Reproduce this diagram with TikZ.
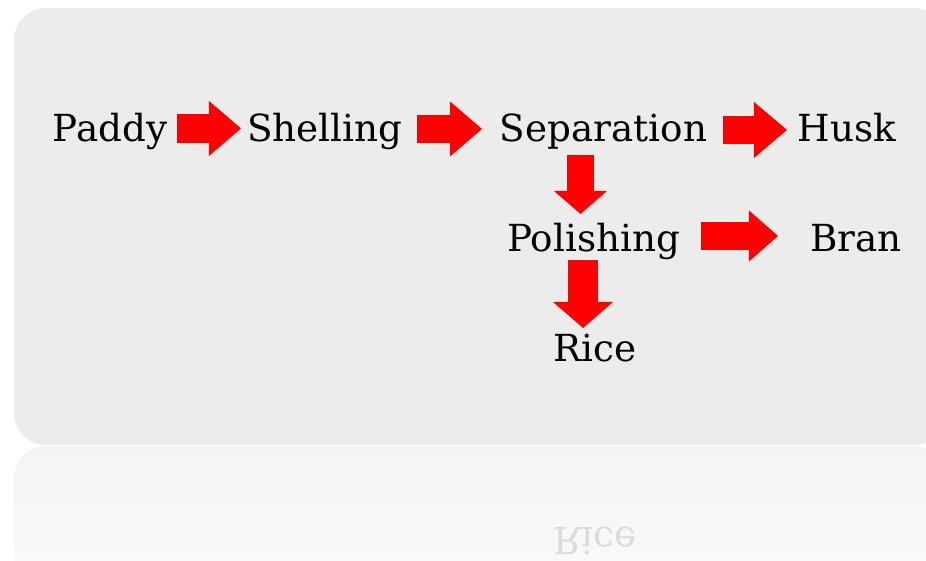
\documentclass[tikz,border=0pt]{standalone}
\usepackage{fontspec}
\setmainfont{DejaVu Serif}
\usetikzlibrary{arrows.meta, calc}

\definecolor{panelgray}{RGB}{236,236,236}
\definecolor{mirrortop}{RGB}{244,244,244}
\definecolor{mirrorbot}{RGB}{255,255,255}
\definecolor{mirrortext}{RGB}{220,220,220}

\tikzset{
  word/.style={font=\fontsize{10.6}{12}\selectfont, inner sep=0pt, anchor=base},
  flow/.style={draw=red, line width=0.28cm,
               -{Triangle[length=0.32cm, width=0.55cm, line width=0pt]}},
  drop/.style={draw=red, line width=0.28cm,
               -{Triangle[length=0.25cm, width=0.56cm, line width=0pt]}},
}

\begin{document}
\begin{tikzpicture}[x=0.01cm, y=-0.01cm]
  \useasboundingbox (0,0) rectangle (926,561);
  \clip (0,0) rectangle (926,561);
  % panel and its reflection
  \fill[panelgray, rounded corners=0.32cm] (14,8) rectangle (945,445);
  \shade[top color=mirrortop, bottom color=mirrorbot, rounded corners=0.32cm]
    (14,446) rectangle (945,700);
  \node[word, text=mirrortext, yscale=-1, transform shape] (ricemirror)
    at (595,528) {Rice};
  % stages
  \node[word] (paddy) at (110,142) {Paddy};
  \node[word] (shelling) at (325,142) {Shelling};
  \node[word] (separation) at (603.5,142) {Separation};
  \node[word] (husk) at (847,142) {Husk};
  \node[word] (polishing) at (593.5,252) {Polishing};
  \node[word] (bran) at (856,252) {Bran};
  \node[word] (rice) at (595,362) {Rice};
  % arrows
  \draw[flow, line width=0.29cm] ($(paddy.base)+(67,-13.5)$)
    -- ($(shelling.base)+(-84,-13.5)$);
  \draw[flow] ($(shelling.base)+(92,-13)$)
    -- ($(separation.base)+(-121.5,-13)$);
  \draw[flow, -{Triangle[length=0.33cm, width=0.56cm, line width=0pt]}]
    ($(separation.base)+(119.5,-12)$) -- ($(husk.base)+(-60,-12)$);
  \draw[flow, line width=0.27cm, -{Triangle[length=0.29cm, width=0.51cm, line width=0pt]}]
    ($(polishing.base)+(107.5,-16)$) -- ($(bran.base)+(-78,-16)$);
  \draw[drop, line width=0.27cm, -{Triangle[length=0.23cm, width=0.53cm, line width=0pt]}]
    ($(separation.base)+(-23,13)$) -- ($(polishing.base)+(-13,-38)$);
  \draw[drop, line width=0.30cm, -{Triangle[length=0.26cm, width=0.60cm, line width=0pt]}]
    ($(polishing.base)+(-10.5,8)$) -- ($(rice.base)+(-12,-34)$);
\end{tikzpicture}
\end{document}
